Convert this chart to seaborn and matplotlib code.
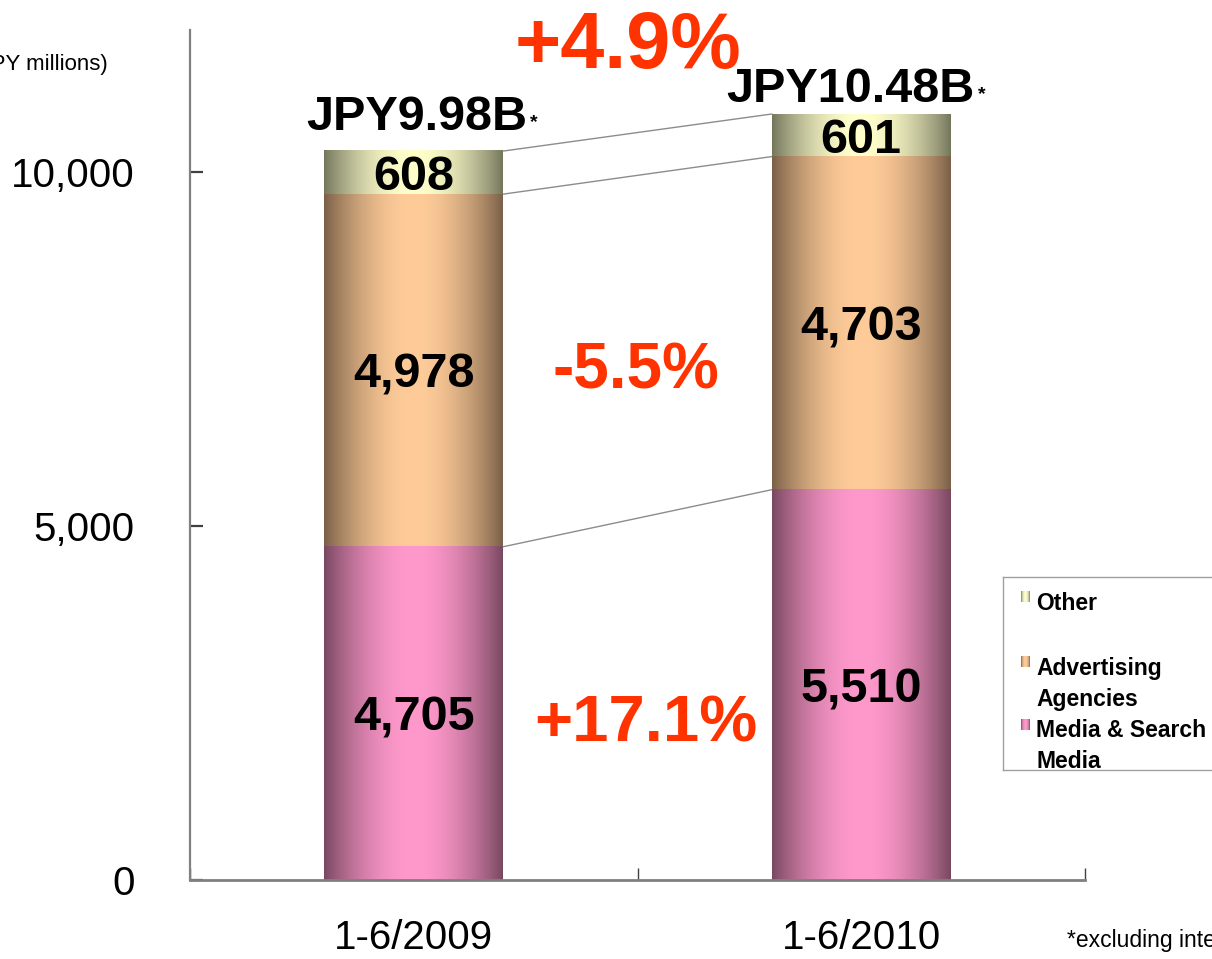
import numpy as np
import pandas as pd
import matplotlib
matplotlib.use("Agg")
import matplotlib.pyplot as plt
import seaborn as sns
from matplotlib.colors import to_rgb

# ---------------- data ----------------
periods = ["1-6/2009", "1-6/2010"]
media_search = [4705, 5510]
ad_agencies = [4978, 4703]
other = [608, 601]
total_labels = ["JPY9.98B", "JPY10.48B"]
growth_media = "+17.1%"
growth_ad = "-5.5%"
growth_total = "+4.9%"
legend_names = [["Other"], ["Advertising", "Agencies"], ["Media & Search", "Media"]]
y_ticks = [0, 5000, 10000]
y_tick_labels = ["0", "5,000", "10,000"]

# ---------------- style ----------------
sns.set_theme(style="white")
plt.rcParams['font.family'] = ['Liberation Sans', 'DejaVu Sans']

RED = "#FF3300"
grad_colors = {
    "media": ("#784860", "#FF99CC"),
    "ad": ("#7A6048", "#FFCC99"),
    "other": ("#74765C", "#FFFFCC"),
}


def gradient_rgba(key, n=256, power=0.9):
    edge, center = np.array(to_rgb(grad_colors[key][0])), np.array(to_rgb(grad_colors[key][1]))
    t = np.linspace(0, 1, n)
    w = np.sin(np.pi * t) ** power
    rgb = edge[None, :] * (1 - w[:, None]) + center[None, :] * w[:, None]
    return rgb[None, :, :]


fig = plt.figure(figsize=(12.12, 9.59), dpi=100)
ax = fig.add_axes([190 / 1212, 1 - 880 / 959, 895 / 1212, 850 / 959])

df = pd.DataFrame({"period": periods, "media": media_search, "ad": ad_agencies, "other": other})
df["ad_top"] = df["media"] + df["ad"]
df["total"] = df["ad_top"] + df["other"]

layers = [("other", "total", "ad_top"), ("ad", "ad_top", "media"), ("media", "media", None)]
for key, top_col, bot_col in layers:
    n_before = len(ax.patches)
    sns.barplot(data=df, x="period", y=top_col, order=periods, color=grad_colors[key][1],
                width=0.4, ax=ax, zorder=2, linewidth=0)
    new_patches = ax.patches[n_before:]
    for j, p in enumerate(new_patches):
        x0, w = p.get_x(), p.get_width()
        top = df[top_col].iloc[j]
        bottom = df[bot_col].iloc[j] if bot_col else 0
        ax.imshow(gradient_rgba(key), extent=[x0, x0 + w, bottom, top], aspect="auto",
                  zorder=3, interpolation="bilinear")
        p.set_facecolor("none")

ax.set_xlim(-0.5, 1.5)
ax.set_ylim(0, 12000)
ax.set_xlabel("")
ax.set_ylabel("")

# connecting lines
half = 0.2
for col in ["media", "ad_top", "total"]:
    ax.plot([0 + half, 1 - half], [df[col].iloc[0], df[col].iloc[1]], color="#8C8C8C",
            lw=1.0, zorder=4)

# value labels
fs_val = 35
for j in range(2):
    segs = [(0, df["media"].iloc[j]), (df["media"].iloc[j], df["ad_top"].iloc[j]),
            (df["ad_top"].iloc[j], df["total"].iloc[j])]
    vals = [media_search[j], ad_agencies[j], other[j]]
    for (b, t), v in zip(segs, vals):
        ax.annotate(f"{v:,}", xy=(j, (b + t) / 2), xytext=(0, -0.358 * fs_val),
                    textcoords="offset points", ha="center", va="baseline",
                    fontsize=fs_val, fontweight="bold", color="black", zorder=6)

# total labels with small asterisk
total_pos = [(0.253, 10593), (1.254, 10989)]
for lab, (x, y) in zip(total_labels, total_pos):
    ax.text(x, y, lab, ha="right", va="baseline", fontsize=35, fontweight="bold",
            color="black", zorder=6)
    ax.annotate("*", xy=(x, y), xytext=(2, 2), textcoords="offset points",
                ha="left", va="baseline", fontsize=14, fontweight="bold", color="black")

# growth labels
ax.text(0.519, 1949, growth_media, ha="center", va="baseline", fontsize=47,
        fontweight="bold", color=RED, zorder=6)
ax.text(0.497, 6935, growth_ad, ha="center", va="baseline", fontsize=46,
        fontweight="bold", color=RED, zorder=6)
ax.text(0.479, 11469, growth_total, ha="center", va="baseline", fontsize=57,
        fontweight="bold", color=RED, zorder=6, clip_on=False)

# axes styling
for s in ["top", "right"]:
    ax.spines[s].set_visible(False)
ax.spines["left"].set_color("#808080")
ax.spines["left"].set_linewidth(1.6)
ax.spines["bottom"].set_color("#808080")
ax.spines["bottom"].set_linewidth(2.0)
ax.spines["left"].set_zorder(1)
ax.spines["bottom"].set_zorder(5)

ax.set_yticks(y_ticks)
ax.set_yticklabels(y_tick_labels)
ax.tick_params(axis="y", direction="in", length=9, width=1.6, color="#404040",
               labelsize=29, pad=40, left=True, labelcolor="black")
ax.set_xticks([0, 1])
ax.set_xticklabels(periods)
ax.tick_params(axis="x", which="major", length=0, labelsize=29, pad=28, labelcolor="black")
ax.set_xticks([-0.5, 0.5, 1.5], minor=True)
ax.tick_params(axis="x", which="minor", direction="in", length=9, width=1.0,
               color="#404040", bottom=True)
ax.grid(False)

# unit label and footnote (cropped at the figure edge as in the reference)
fig.text(108 / 1212, 1 - 70 / 959, "(JPY millions)", ha="right", va="baseline",
         fontsize=16, color="black")
fig.text(1067 / 1212, 1 - 947 / 959, "*excluding intercompany transactions", ha="left",
         va="baseline", fontsize=16.5, color="black")

# legend (pixel coordinate axes)
lax = fig.add_axes([1003 / 1212, 1 - 770 / 959, 209 / 1212, 193 / 959])
lax.set_facecolor("white")
lax.set_xticks([])
lax.set_yticks([])
for s in ["left", "top", "bottom"]:
    lax.spines[s].set_color("#A0A0A0")
    lax.spines[s].set_linewidth(1.0)
lax.spines["right"].set_visible(False)

leg_keys = ["other", "ad", "media"]
marker_tops = [591, 656, 719]
text_baselines = [[610], [675, 706], [737, 768]]
for key, mt, names, bls in zip(leg_keys, marker_tops, legend_names, text_baselines):
    lax.imshow(gradient_rgba(key, 32, power=0.6), extent=[1021, 1030, mt + 11, mt],
               aspect="auto", interpolation="bilinear")
    for nm, bl in zip(names, bls):
        lax.text(1036, bl, nm, ha="left", va="baseline", fontsize=16.5, fontweight="bold",
                 color="black", clip_on=False)
lax.set_xlim(1003, 1212)
lax.set_ylim(770, 577)

fig.savefig("out.png", dpi=100)
